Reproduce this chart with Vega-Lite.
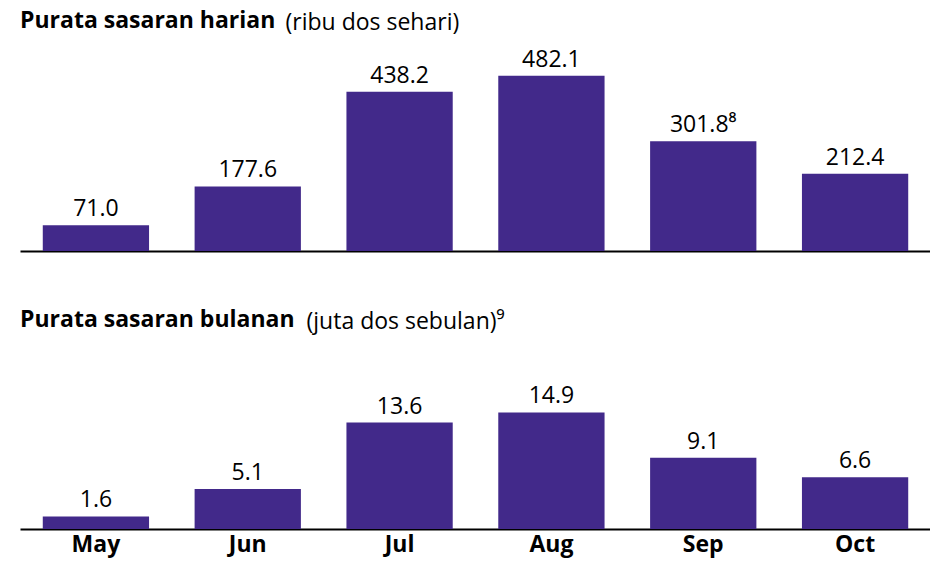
{
  "$schema": "https://vega.github.io/schema/vega-lite/v6.json",
  "background": "white",
  "padding": {"left": 20, "right": 0, "top": 10, "bottom": 3},
  "spacing": 58,
  "config": {"view": {"stroke": null}, "font": "Open Sans"},
  "datasets": {
    "daily": [
      {"month": "May", "value": 71.0, "label": "71.0"},
      {"month": "Jun", "value": 177.6, "label": "177.6"},
      {"month": "Jul", "value": 438.2, "label": "438.2"},
      {"month": "Aug", "value": 482.1, "label": "482.1"},
      {"month": "Sep", "value": 301.8, "label": "301.8⁸"},
      {"month": "Oct", "value": 212.4, "label": "212.4"}
    ],
    "monthly": [
      {"month": "May", "value": 1.6, "label": "1.6"},
      {"month": "Jun", "value": 5.1, "label": "5.1"},
      {"month": "Jul", "value": 13.6, "label": "13.6"},
      {"month": "Aug", "value": 14.9, "label": "14.9"},
      {"month": "Sep", "value": 9.1, "label": "9.1"},
      {"month": "Oct", "value": 6.6, "label": "6.6"}
    ]
  },
  "vconcat": [
    {
      "width": 911,
      "height": 200,
      "data": {"name": "daily"},
      "title": {"text": "Purata sasaran harian", "anchor": "start", "frame": "group", "fontSize": 23, "fontWeight": "bold", "color": "#000000", "offset": -22},
      "encoding": {
        "x": {"field": "month", "type": "nominal", "sort": null,
          "scale": {"paddingInner": 0.3, "paddingOuter": 0.15},
          "axis": {"title": null, "labels": false, "ticks": false, "domainColor": "#000000", "domainWidth": 2}},
        "y": {"field": "value", "type": "quantitative",
          "scale": {"domain": [0, 550], "nice": false},
          "axis": {"title": "(ribu dos sehari)", "titleAngle": 0, "titleAlign": "left", "titleBaseline": "alphabetic", "titleX": 265, "titleY": -22, "titleFontSize": 23, "titleFontWeight": "normal", "titleColor": "#000000", "labels": false, "ticks": false, "domain": false, "grid": false}}
      },
      "layer": [
        {"mark": {"type": "bar", "color": "#42298a"}},
        {"mark": {"type": "text", "baseline": "alphabetic", "dy": -9, "fontSize": 23, "color": "#000000"}, "encoding": {"text": {"field": "label"}}}
      ]
    },
    {
      "width": 911,
      "height": 180,
      "data": {"name": "monthly"},
      "title": {"text": "Purata sasaran bulanan", "anchor": "start", "frame": "group", "fontSize": 23, "fontWeight": "bold", "color": "#000000", "offset": -22},
      "encoding": {
        "x": {"field": "month", "type": "nominal", "sort": null,
          "scale": {"paddingInner": 0.3, "paddingOuter": 0.15},
          "axis": {"title": null, "labelAngle": 0, "labelFontSize": 23, "labelFontWeight": "bold", "labelColor": "#000000", "labelPadding": 4, "ticks": false, "domainColor": "#000000", "domainWidth": 2}},
        "y": {"field": "value", "type": "quantitative",
          "scale": {"domain": [0, 23], "nice": false},
          "axis": {"title": "(juta dos sebulan)⁹", "titleAngle": 0, "titleAlign": "left", "titleBaseline": "alphabetic", "titleX": 286, "titleY": -21, "titleFontSize": 23, "titleFontWeight": "normal", "titleColor": "#000000", "labels": false, "ticks": false, "domain": false, "grid": false}}
      },
      "layer": [
        {"mark": {"type": "bar", "color": "#42298a"}},
        {"mark": {"type": "text", "baseline": "alphabetic", "dy": -9, "fontSize": 23, "color": "#000000"}, "encoding": {"text": {"field": "label"}}}
      ]
    }
  ]
}
